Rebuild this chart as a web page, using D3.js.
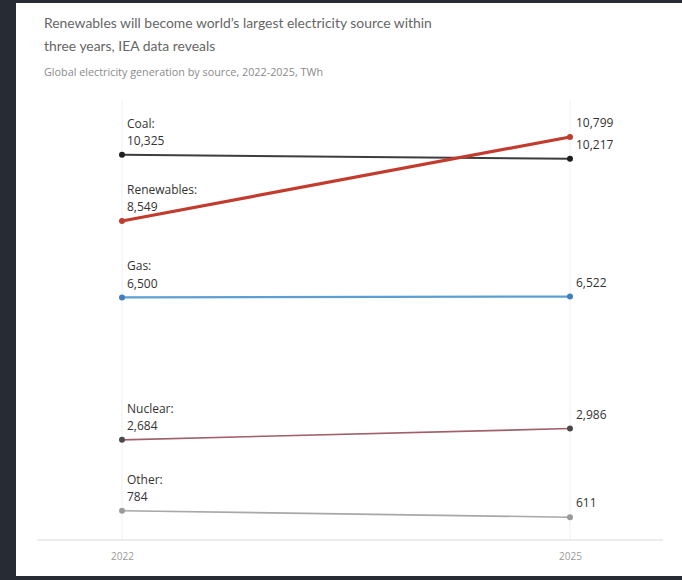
<!DOCTYPE html>
<html>
<head>
<meta charset="utf-8">
<script src="https://cdn.jsdelivr.net/npm/d3@7"></script>
<style>
  html, body { margin: 0; padding: 0; background: #272b33; }
  svg { display: block; }
</style>
</head>
<body>
<svg id="chart" width="682" height="580"></svg>
<script>
// Global electricity generation by source, TWh
const years = [2022, 2025];
const sources = ["Coal", "Renewables", "Gas", "Nuclear", "Other"];
const start2022 = [10325, 8549, 6500, 2684, 784];
const end2025 = [10217, 10799, 6522, 2986, 611];
const yearLabels = ["2022", "2025"];

const lineColors = ["#3d3d3d", "#c23b2e", "#5e9fd3", "#a0606a", "#a8a8a8"];
const dotColors = ["#1e1e1e", "#c23b2e", "#3f7fbf", "#4a4a4a", "#9a9a9a"];
const lineWidths = [2, 3.2, 2.2, 1.6, 1.6];

const svg = d3.select("#chart");
const fontFamily = "'Open Sans', 'DejaVu Sans', sans-serif";

// white card on the dark frame
svg.append("rect").attr("x", 16).attr("y", 3).attr("width", 666).attr("height", 573).attr("fill", "#ffffff");

// headline and subtitle
const title = svg.append("text").attr("x", 44).attr("y", 28)
  .attr("font-family", "Lato, 'Open Sans', sans-serif").attr("font-size", 13.9).attr("fill", "#666666");
title.append("tspan").attr("x", 44).attr("dy", 0).text("Renewables will become world\u2019s largest electricity source within");
title.append("tspan").attr("x", 44).attr("dy", 23).text("three years, IEA data reveals");

svg.append("text").attr("x", 44).attr("y", 76)
  .attr("font-family", fontFamily).attr("font-size", 10.8).attr("fill", "#8a8a8a")
  .text("Global electricity generation by source, 2022-2025, TWh");

const x = d3.scaleLinear().domain([2022, 2025]).range([122, 570]);
const y = d3.scaleLinear().domain([0, 11000]).range([540, 129.5]);

// faint vertical guides at each year
svg.append("g").selectAll("line").data(years).join("line")
  .attr("x1", d => x(d)).attr("x2", d => x(d))
  .attr("y1", 100).attr("y2", 540)
  .attr("stroke", "#f0f0f0").attr("stroke-width", 1);

// baseline axis with year labels
const axis = d3.axisBottom(x).tickValues(years).tickSize(0).tickPadding(13)
  .tickFormat((d, i) => yearLabels[i]);
const axisG = svg.append("g").attr("transform", `translate(0,${y(0)})`).call(axis);
axisG.select(".domain").remove();
axisG.selectAll("text").attr("font-family", fontFamily).attr("font-size", 10).attr("fill", "#9a9a9a");
svg.append("line").attr("x1", 37).attr("x2", 663).attr("y1", y(0)).attr("y2", y(0))
  .attr("stroke", "#e6e6e6").attr("stroke-width", 1.5);

const rows = sources.map((s, i) => ({ name: s, i, v0: start2022[i], v1: end2025[i] }));
const fmt = d3.format(",");

const line = d3.line().x(d => x(d[0])).y(d => y(d[1]));

const g = svg.append("g");
g.selectAll("path.series").data(rows).join("path")
  .attr("class", "series")
  .attr("d", d => line([[years[0], d.v0], [years[1], d.v1]]))
  .attr("fill", "none")
  .attr("stroke", d => lineColors[d.i])
  .attr("stroke-width", d => lineWidths[d.i]);

rows.forEach(d => {
  [[years[0], d.v0], [years[1], d.v1]].forEach(p => {
    g.append("circle").attr("cx", x(p[0])).attr("cy", y(p[1])).attr("r", 3)
      .attr("fill", dotColors[d.i]);
  });
});

// left labels: name and 2022 value stacked above the start point
const left = g.selectAll("text.left").data(rows).join("text")
  .attr("class", "left")
  .attr("font-family", fontFamily).attr("font-size", 12).attr("fill", "#333");
left.append("tspan").attr("x", x(2022) + 5).attr("y", d => y(d.v0) - 27).text(d => d.name + ":");
left.append("tspan").attr("x", x(2022) + 5).attr("y", d => y(d.v0) - 9.5).text(d => fmt(d.v0));

// right labels: 2025 value above the end point
g.selectAll("text.right").data(rows).join("text")
  .attr("class", "right")
  .attr("x", x(2025) + 6).attr("y", d => y(d.v1) - 10)
  .attr("font-family", fontFamily).attr("font-size", 12).attr("fill", "#333")
  .text(d => fmt(d.v1));
</script>
</body>
</html>
